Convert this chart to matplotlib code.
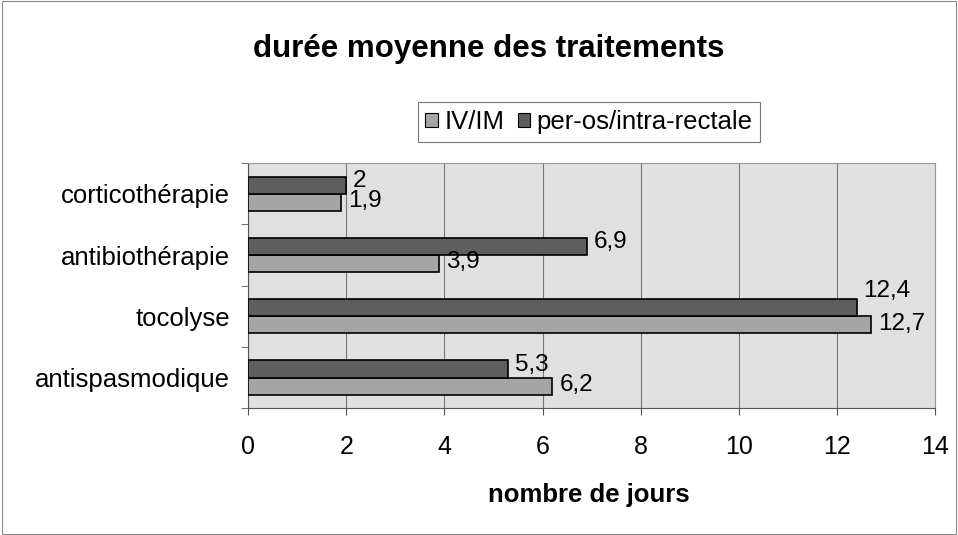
import matplotlib.pyplot as plt
from matplotlib.patches import Rectangle, Patch
import numpy as np

plt.rcParams['font.family'] = ['Liberation Sans', 'DejaVu Sans']

# Data
categories = ["antispasmodique", "tocolyse", "antibiothérapie", "corticothérapie"]
iv_im = [6.2, 12.7, 3.9, 1.9]
per_os = [5.3, 12.4, 6.9, 2.0]
series_names = ["IV/IM", "per-os/intra-rectale"]

fig = plt.figure(figsize=(9.58, 5.35), dpi=100)
fig.patches.append(Rectangle((0.002, 0.002), 0.996, 0.996, transform=fig.transFigure,
                             fill=False, edgecolor="#888888", linewidth=0.8))

ax = fig.add_axes([0.259, 0.237, 0.717, 0.458])
ax.set_facecolor("#e0e0e0")

y = np.arange(len(categories))
h = 0.28
light = "#a5a5a5"
dark = "#5e5e5e"
ax.barh(y - h / 2, iv_im, height=h, color=light, edgecolor="black", linewidth=1.2, zorder=3)
ax.barh(y + h / 2, per_os, height=h, color=dark, edgecolor="black", linewidth=1.2, zorder=3)

def fmt(v):
    return ("%g" % v).replace(".", ",")

for yi, v in zip(y, iv_im):
    ax.annotate(fmt(v), (v, yi - h / 2), xytext=(5, 1), textcoords="offset points",
                va="center", ha="left", fontsize=17.5)
for yi, v, iv in zip(y, per_os, iv_im):
    dy = 12 if iv > v + 0.2 and v > 10 else 3
    ax.annotate(fmt(v), (v, yi + h / 2), xytext=(5, dy), textcoords="offset points",
                va="center", ha="left", fontsize=17.5)

ax.set_xlim(0, 14)
ax.set_ylim(-0.5, 3.5)
ax.set_xticks(range(0, 15, 2))
ax.set_xticklabels([str(t) for t in range(0, 15, 2)], fontsize=18)
ax.set_yticks(y)
ax.set_yticklabels(categories, fontsize=18.5)
ax.set_yticks(np.arange(-0.5, 3.6, 1), minor=True)
ax.tick_params(axis="y", which="major", length=0, pad=13)
ax.tick_params(axis="y", which="minor", length=5, direction="out", color="#555555")
ax.tick_params(axis="x", length=5, direction="out", pad=14, color="#555555")
ax.grid(axis="x", color="#777777", linewidth=0.8, zorder=0)
for side in ["top", "right"]:
    ax.spines[side].set_color("#999999")
    ax.spines[side].set_linewidth(0.8)
for side in ["left", "bottom"]:
    ax.spines[side].set_color("#555555")

fig.text(0.615, 0.075, "nombre de jours", fontsize=18.5, fontweight="bold",
         ha="center", va="center")

fig.text(0.264, 0.8935, "durée moyenne des traitements", fontsize=22.5, fontweight="bold",
         ha="left", va="baseline")

handles = [Patch(facecolor=light, edgecolor="black", linewidth=0.8),
           Patch(facecolor=dark, edgecolor="black", linewidth=0.8)]
leg = fig.legend(handles, series_names, loc="lower left", bbox_to_anchor=(0.436, 0.735),
                 ncol=2, fontsize=18.5, frameon=True, fancybox=False, edgecolor="#555555",
                 handlelength=0.5, handleheight=0.5, handletextpad=0.25, columnspacing=0.5,
                 borderpad=0.3, borderaxespad=0)
leg.get_frame().set_linewidth(0.8)

fig.savefig("out.png", dpi=100)
